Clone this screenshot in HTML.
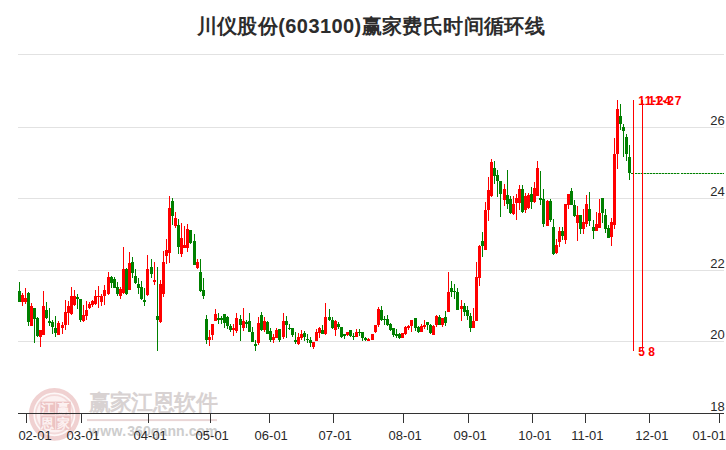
<!DOCTYPE html>
<html><head><meta charset="utf-8"><title>chart</title>
<style>html,body{margin:0;padding:0;background:#fff;}svg{display:block;}text{font-family:"Liberation Sans",sans-serif;}</style>
</head><body>
<svg width="726" height="450" viewBox="0 0 726 450">
<rect width="726" height="450" fill="#fff"/>
<g fill="#e2e2e2" shape-rendering="crispEdges">
<rect x="18" y="54" width="706" height="1"/>
<rect x="18" y="127" width="706" height="1"/>
<rect x="18" y="198" width="706" height="1"/>
<rect x="18" y="270" width="706" height="1"/>
<rect x="18" y="341" width="706" height="1"/>
</g>
<g id="seal">
<ellipse cx="54.4" cy="414.3" rx="23.3" ry="24.1" fill="#fdf8f8" stroke="#f0d1d1" stroke-width="4.5"/>
<ellipse cx="54.4" cy="414.3" rx="18.6" ry="19.2" fill="#fcf1f1" stroke="#f3d9d9" stroke-width="1.8"/>
<rect x="40.4" y="401.6" width="30.4" height="28.2" fill="#ecc3c3"/>
<rect x="55.0" y="401.6" width="1.2" height="28.2" fill="#f5dddd"/>
<rect x="40.4" y="414.9" width="30.4" height="1.2" fill="#f5dddd"/>
<g font-family='"Liberation Sans","Noto Sans CJK SC",sans-serif' font-size="12.5" font-weight="bold" fill="#fcf1f1" text-anchor="middle">
<text x="47.7" y="413">江</text>
<text x="63.2" y="413">赢</text>
<text x="47.6" y="427.6">恩</text>
<text x="63.3" y="427.6">家</text>
</g>
</g>
<text x="88.5" y="410" font-family='"Liberation Sans","Noto Sans CJK SC",sans-serif' font-size="21.5" font-weight="bold" fill="#d8d2d2" textLength="129" lengthAdjust="spacing">赢家江恩软件</text>
<rect x="87" y="419.1" width="130" height="2" fill="#ead6d6"/>
<text y="435.8" font-size="14" font-weight="bold" fill="#cdcdcd"><tspan x="88.8" letter-spacing="0.45">www.</tspan><tspan x="127.2" letter-spacing="0.1">360gann.com</tspan></text>
<text x="196.7" y="33" font-family='"Liberation Sans","Noto Sans CJK SC",sans-serif' font-size="20" font-weight="bold" fill="#2c2c2c" textLength="348" lengthAdjust="spacing">川仪股份(603100)赢家费氏时间循环线</text>
<g shape-rendering="crispEdges">
<path d="M19 282h1V302h-1zM18 291h3V302h-3zM28 292h1V326h-1zM27 293h3V322h-3zM34 308h1V343h-1zM33 308h3V319h-3zM37 317h1V337h-1zM36 318h3V336h-3zM46 302h1V319h-1zM45 310h3V318h-3zM49 308h1V326h-1zM48 321h3V323h-3zM52 320h1V334h-1zM51 322h3V327h-3zM55 316h1V337h-1zM54 328h3V333h-3zM77 294h1V309h-1zM76 297h3V299h-3zM80 299h1V322h-1zM79 299h3V320h-3zM111 276h1V288h-1zM110 277h3V283h-3zM114 277h1V288h-1zM113 279h3V288h-3zM117 282h1V296h-1zM116 287h3V294h-3zM126 268h1V295h-1zM125 269h3V294h-3zM132 257h1V278h-1zM131 262h3V273h-3zM135 269h1V284h-1zM134 276h3V283h-3zM138 278h1V294h-1zM137 284h3V288h-3zM141 281h1V300h-1zM140 287h3V299h-3zM144 288h1V306h-1zM143 300h3V302h-3zM151 259h1V278h-1zM150 267h3V274h-3zM157 267h1V351h-1zM156 316h3V320h-3zM172 198h1V225h-1zM171 201h3V216h-3zM178 219h1V254h-1zM177 225h3V247h-3zM190 230h1V244h-1zM189 230h3V243h-3zM194 234h1V265h-1zM193 241h3V265h-3zM200 259h1V292h-1zM199 272h3V291h-3zM203 278h1V299h-1zM202 290h3V296h-3zM206 315h1V344h-1zM205 319h3V340h-3zM218 313h1V324h-1zM217 318h3V320h-3zM221 316h1V324h-1zM220 318h3V320h-3zM224 314h1V328h-1zM223 314h3V323h-3zM227 316h1V329h-1zM226 317h3V326h-3zM230 324h1V332h-1zM229 326h3V330h-3zM240 315h1V341h-1zM239 319h3V325h-3zM246 320h1V328h-1zM245 322h3V324h-3zM249 313h1V332h-1zM248 321h3V332h-3zM252 327h1V342h-1zM251 332h3V342h-3zM255 340h1V351h-1zM254 344h3V346h-3zM261 312h1V331h-1zM260 315h3V330h-3zM267 321h1V334h-1zM266 322h3V334h-3zM270 328h1V342h-1zM269 331h3V340h-3zM279 329h1V342h-1zM278 329h3V340h-3zM286 316h1V338h-1zM285 321h3V325h-3zM289 324h1V330h-1zM288 328h3V329h-3zM292 328h1V337h-1zM291 328h3V335h-3zM295 332h1V344h-1zM294 340h3V342h-3zM304 331h1V341h-1zM303 333h3V337h-3zM307 334h1V343h-1zM306 339h3V340h-3zM310 337h1V347h-1zM309 340h3V343h-3zM322 325h1V334h-1zM321 330h3V334h-3zM329 309h1V321h-1zM328 317h3V320h-3zM332 317h1V329h-1zM331 320h3V328h-3zM338 322h1V329h-1zM337 324h3V327h-3zM341 327h1V338h-1zM340 327h3V337h-3zM344 334h1V339h-1zM343 334h3V336h-3zM350 330h1V337h-1zM349 330h3V336h-3zM353 333h1V340h-1zM352 336h3V337h-3zM359 329h1V336h-1zM358 332h3V333h-3zM362 332h1V341h-1zM361 332h3V338h-3zM365 337h1V341h-1zM364 338h3V340h-3zM381 306h1V321h-1zM380 310h3V320h-3zM384 316h1V325h-1zM383 319h3V320h-3zM387 315h1V326h-1zM386 319h3V325h-3zM390 323h1V331h-1zM389 324h3V330h-3zM393 328h1V337h-1zM392 328h3V335h-3zM396 329h1V338h-1zM395 334h3V336h-3zM399 333h1V339h-1zM398 334h3V338h-3zM415 318h1V331h-1zM414 318h3V328h-3zM418 326h1V333h-1zM417 327h3V332h-3zM427 322h1V330h-1zM426 322h3V325h-3zM430 324h1V334h-1zM429 325h3V333h-3zM439 315h1V325h-1zM438 317h3V325h-3zM445 311h1V326h-1zM444 317h3V323h-3zM451 281h1V297h-1zM450 288h3V292h-3zM454 284h1V299h-1zM453 291h3V292h-3zM457 288h1V310h-1zM456 292h3V310h-3zM464 303h1V316h-1zM463 306h3V312h-3zM467 306h1V320h-1zM466 310h3V316h-3zM470 313h1V332h-1zM469 316h3V328h-3zM482 232h1V257h-1zM481 241h3V246h-3zM494 161h1V184h-1zM493 168h3V176h-3zM497 170h1V197h-1zM496 175h3V181h-3zM500 181h1V217h-1zM499 181h3V194h-3zM507 170h1V209h-1zM506 195h3V204h-3zM510 196h1V214h-1zM509 199h3V213h-3zM522 185h1V213h-1zM521 189h3V212h-3zM531 187h1V209h-1zM530 194h3V202h-3zM540 171h1V205h-1zM539 198h3V200h-3zM543 189h1V227h-1zM542 199h3V224h-3zM550 199h1V222h-1zM549 201h3V220h-3zM553 219h1V255h-1zM552 227h3V254h-3zM562 227h1V240h-1zM561 231h3V236h-3zM571 188h1V205h-1zM570 191h3V205h-3zM574 200h1V217h-1zM573 205h3V216h-3zM580 215h1V234h-1zM579 215h3V229h-3zM589 192h1V226h-1zM588 209h3V221h-3zM593 220h1V239h-1zM592 227h3V231h-3zM602 198h1V223h-1zM601 198h3V213h-3zM605 209h1V233h-1zM604 215h3V229h-3zM608 225h1V238h-1zM607 228h3V238h-3zM620 104h1V130h-1zM619 116h3V124h-3zM623 124h1V157h-1zM622 127h3V131h-3zM626 134h1V161h-1zM625 137h3V154h-3zM629 145h1V180h-1zM628 157h3V173h-3z" fill="#008000"/>
<path d="M22 293h1V306h-1zM21 295h3V302h-3zM25 288h1V304h-1zM24 298h3V302h-3zM31 303h1V326h-1zM30 306h3V326h-3zM40 330h1V347h-1zM39 330h3V337h-3zM43 291h1V335h-1zM42 306h3V335h-3zM58 321h1V335h-1zM57 323h3V335h-3zM62 322h1V334h-1zM61 325h3V328h-3zM65 300h1V330h-1zM64 312h3V325h-3zM68 301h1V325h-1zM67 306h3V313h-3zM71 287h1V315h-1zM70 296h3V314h-3zM74 290h1V306h-1zM73 296h3V305h-3zM83 305h1V322h-1zM82 315h3V321h-3zM86 301h1V320h-1zM85 310h3V316h-3zM89 302h1V309h-1zM88 304h3V308h-3zM92 300h1V307h-1zM91 301h3V305h-3zM95 290h1V305h-1zM94 296h3V304h-3zM98 286h1V308h-1zM97 296h3V297h-3zM101 294h1V306h-1zM100 296h3V302h-3zM104 285h1V305h-1zM103 290h3V296h-3zM108 272h1V295h-1zM107 277h3V294h-3zM120 287h1V299h-1zM119 289h3V296h-3zM123 247h1V294h-1zM122 269h3V293h-3zM129 252h1V290h-1zM128 263h3V290h-3zM147 255h1V296h-1zM146 269h3V295h-3zM154 262h1V285h-1zM153 280h3V282h-3zM160 280h1V323h-1zM159 284h3V322h-3zM163 251h1V297h-1zM162 262h3V294h-3zM166 239h1V264h-1zM165 250h3V256h-3zM169 196h1V263h-1zM168 208h3V253h-3zM175 212h1V228h-1zM174 218h3V226h-3zM181 223h1V257h-1zM180 238h3V254h-3zM184 226h1V248h-1zM183 245h3V248h-3zM187 224h1V252h-1zM186 229h3V248h-3zM197 259h1V269h-1zM196 262h3V268h-3zM209 330h1V346h-1zM208 337h3V340h-3zM212 324h1V340h-1zM211 324h3V335h-3zM215 309h1V321h-1zM214 314h3V321h-3zM233 324h1V336h-1zM232 328h3V330h-3zM236 313h1V333h-1zM235 318h3V331h-3zM243 308h1V331h-1zM242 321h3V328h-3zM258 317h1V345h-1zM257 323h3V343h-3zM264 317h1V332h-1zM263 321h3V330h-3zM273 334h1V343h-1zM272 337h3V340h-3zM276 328h1V338h-1zM275 330h3V338h-3zM283 313h1V339h-1zM282 321h3V337h-3zM298 333h1V345h-1zM297 337h3V344h-3zM301 330h1V340h-1zM300 334h3V338h-3zM313 342h1V349h-1zM312 342h3V347h-3zM316 329h1V341h-1zM315 332h3V341h-3zM319 327h1V338h-1zM318 328h3V333h-3zM325 303h1V335h-1zM324 317h3V334h-3zM335 320h1V336h-1zM334 321h3V330h-3zM347 332h1V336h-1zM346 332h3V335h-3zM356 329h1V337h-1zM355 332h3V337h-3zM368 338h1V341h-1zM367 339h3V341h-3zM372 334h1V340h-1zM371 334h3V340h-3zM375 325h1V333h-1zM374 325h3V332h-3zM378 307h1V327h-1zM377 309h3V325h-3zM402 333h1V338h-1zM401 333h3V338h-3zM405 326h1V335h-1zM404 327h3V334h-3zM408 325h1V330h-1zM407 326h3V328h-3zM411 320h1V332h-1zM410 320h3V326h-3zM421 324h1V332h-1zM420 326h3V332h-3zM424 320h1V329h-1zM423 325h3V327h-3zM433 325h1V335h-1zM432 326h3V335h-3zM436 315h1V327h-1zM435 316h3V325h-3zM442 318h1V327h-1zM441 318h3V325h-3zM448 272h1V312h-1zM447 292h3V312h-3zM461 300h1V321h-1zM460 306h3V309h-3zM473 308h1V328h-1zM472 321h3V328h-3zM476 262h1V321h-1zM475 277h3V321h-3zM479 245h1V286h-1zM478 246h3V278h-3zM485 202h1V250h-1zM484 210h3V250h-3zM488 177h1V221h-1zM487 190h3V210h-3zM491 159h1V197h-1zM490 162h3V196h-3zM504 184h1V206h-1zM503 189h3V200h-3zM513 196h1V215h-1zM512 204h3V214h-3zM516 194h1V220h-1zM515 198h3V203h-3zM519 185h1V210h-1zM518 189h3V203h-3zM525 193h1V213h-1zM524 196h3V210h-3zM528 193h1V209h-1zM527 195h3V208h-3zM534 182h1V203h-1zM533 188h3V202h-3zM537 161h1V196h-1zM536 168h3V196h-3zM547 200h1V226h-1zM546 201h3V226h-3zM556 239h1V254h-1zM555 245h3V253h-3zM559 227h1V247h-1zM558 231h3V242h-3zM565 204h1V244h-1zM564 204h3V240h-3zM568 194h1V209h-1zM567 194h3V205h-3zM577 206h1V241h-1zM576 215h3V223h-3zM583 209h1V234h-1zM582 222h3V229h-3zM586 195h1V227h-1zM585 204h3V224h-3zM596 212h1V231h-1zM595 224h3V231h-3zM599 199h1V228h-1zM598 213h3V228h-3zM611 218h1V246h-1zM610 222h3V237h-3zM614 138h1V229h-1zM613 154h3V225h-3zM617 100h1V169h-1zM616 109h3V154h-3z" fill="#ff0000"/>
</g>
<g shape-rendering="crispEdges">
<path d="M631 173h2v1h-2zM635 173h45v1h-45zM681 173h43v1h-43z" fill="#a6d3a6"/>
<path d="M631 173h2v1h-2zM635 173h2v1h-2zM638 173h2v1h-2zM641 173h2v1h-2zM644 173h2v1h-2zM647 173h2v1h-2zM650 173h2v1h-2zM653 173h2v1h-2zM656 173h2v1h-2zM659 173h2v1h-2zM662 173h2v1h-2zM665 173h2v1h-2zM668 173h2v1h-2zM671 173h2v1h-2zM674 173h2v1h-2zM677 173h2v1h-2zM681 173h2v1h-2zM684 173h2v1h-2zM687 173h2v1h-2zM690 173h2v1h-2zM693 173h2v1h-2zM696 173h2v1h-2zM699 173h2v1h-2zM702 173h2v1h-2zM705 173h2v1h-2zM708 173h2v1h-2zM711 173h2v1h-2zM714 173h2v1h-2zM717 173h2v1h-2zM720 173h2v1h-2zM723 173h1v1h-1z" fill="#008000"/>
</g>
<g fill="#ff0000" shape-rendering="crispEdges">
<rect x="633" y="100" width="1" height="251"/>
<rect x="642" y="100" width="1" height="251"/>
</g>
<g font-size="12" font-weight="bold" fill="#ff0000">
<text x="638.2" y="104.5" textLength="32.6" lengthAdjust="spacing">11-24</text>
<text x="648.3" y="104.5" textLength="33.2" lengthAdjust="spacing">11-27</text>
<text y="355.5" x="638.2 645 648.2">5 8</text>
</g>
<g fill="#333" shape-rendering="crispEdges">
<rect x="18" y="413" width="706" height="1"/>
<rect x="26" y="413" width="1" height="10"/>
<rect x="81" y="413" width="1" height="10"/>
<rect x="148" y="413" width="1" height="10"/>
<rect x="210" y="413" width="1" height="10"/>
<rect x="269" y="413" width="1" height="10"/>
<rect x="333" y="413" width="1" height="10"/>
<rect x="403" y="413" width="1" height="10"/>
<rect x="468" y="413" width="1" height="10"/>
<rect x="532" y="413" width="1" height="10"/>
<rect x="585" y="413" width="1" height="10"/>
<rect x="649" y="413" width="1" height="10"/>
<rect x="719" y="413" width="1" height="10"/>
</g>
<g font-size="13" fill="#282828">
<text x="18.4" y="439.9">02-01</text>
<text x="66.6" y="439.9">03-01</text>
<text x="133.6" y="439.9">04-01</text>
<text x="195.6" y="439.9">05-01</text>
<text x="254.6" y="439.9">06-01</text>
<text x="318.6" y="439.9">07-01</text>
<text x="388.6" y="439.9">08-01</text>
<text x="453.6" y="439.9">09-01</text>
<text x="518.2" y="439.9">10-01</text>
<text x="571.2" y="439.9">11-01</text>
<text x="635.2" y="439.9">12-01</text>
<text x="692.4" y="439.9">01-01</text>
<text x="710.3" y="125">26</text>
<text x="710.3" y="196">24</text>
<text x="710.3" y="268">22</text>
<text x="710.3" y="339">20</text>
<text x="710.3" y="411">18</text>
</g>
</svg></body></html>
